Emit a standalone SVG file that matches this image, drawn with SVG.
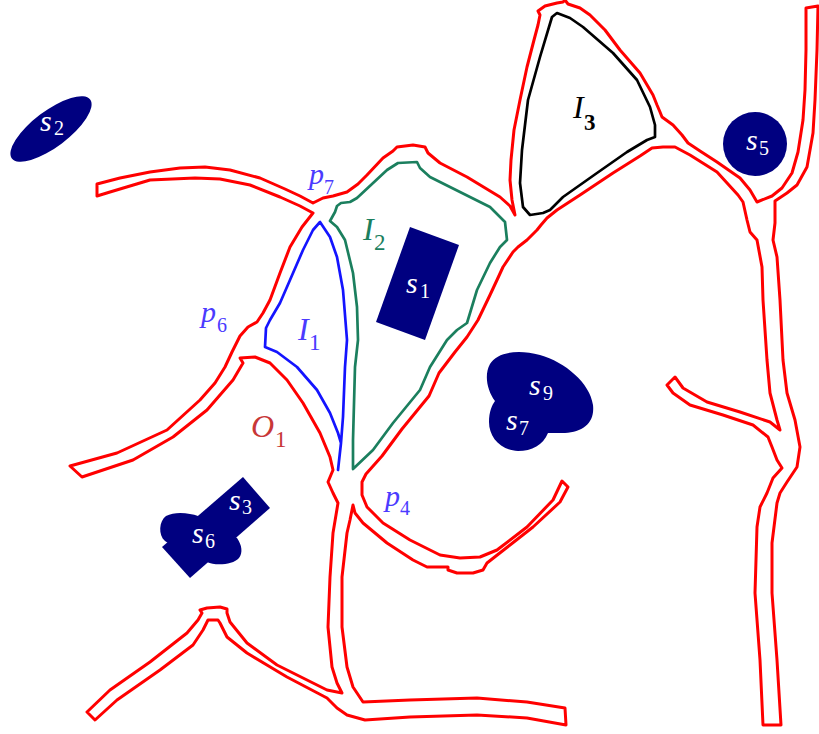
<svg xmlns="http://www.w3.org/2000/svg" width="819" height="734" viewBox="0 0 819 734">
<style>
  .road{fill:none;stroke:#ff0000;stroke-width:3;stroke-linejoin:round;stroke-linecap:round}
  .zone{fill:none;stroke-width:2.7;stroke-linejoin:round;stroke-linecap:round}
  .spot{fill:#000080}
  .m{font-family:"Liberation Serif","Times New Roman",serif;font-style:italic}
  .d{font-family:"Liberation Serif","Times New Roman",serif}
  .ms{font-size:30px}
  .ds{font-size:20px}
  .mb{font-size:32px}
  .db{font-size:23px}
  .wht{fill:#ffffff}
  .pt{fill:#4b3bff}
</style>
<rect width="819" height="734" fill="#ffffff"/>

<!-- outline of the road network -->
<g id="roads">
  <path class="road" d="M97,196 L97,184 L120,178 L150,172 L180,168 L205,167 L230,170 L260,178 L285,189 L300,196 L313,203
    L323,198 L333,196 L347,192 L358,184 L367,175 L383,158 L393,151 L397,147 L405,146 L413,145 L425,147 L428,153 L440,163 L467,177 L500,197 L510,206 L515,215
    L512,200 L510,180 L511,160 L514,130 L520,100 L527,67 L534,40 L538,25 L540,15 L538,11 L545,6 L557,3 L563,2 L565,0 L568,4 L580,8 L590,15 L605,30 L620,50 L640,73 L653,95 L657,105 L660,112 L662,117
    L673,125 L682,135 L688,143 L700,151 L717,162 L740,178 L750,190 L757,202
    L772,196 L782,188 L792,173 L798,152 L803,120 L805,90 L806,50 L806,8 L818,6
    L817,50 L815,100 L813,133 L807,167 L797,185 L787,193 L775,201 L775,223 L773,240 L777,257 L780,300 L783,360 L787,393 L795,420 L800,447 L797,467 L787,482 L780,493 L777,503 L772,543 L772,593 L777,660 L781,725
    L763,725 L760,660 L755,593 L757,527 L760,507 L767,493 L773,478 L782,468
    L777,460 L772,447 L768,437 L753,425 L723,415 L690,405 L673,393 L667,385 L675,377 L683,388 L707,402 L740,412 L770,422 L780,430
    L777,420 L770,393 L767,360 L763,300 L762,267 L757,240 L750,232 L747,220 L743,202
    L738,195 L717,172 L690,155 L675,147 L663,147 L652,148 L640,156 L613,173 L580,195 L557,210 L547,218 L541,225
    L537,230 L527,240 L518,247 L513,252 L503,267 L497,280 L490,295 L478,320 L467,337 L455,352 L439,373 L429,396 L402,429 L382,456 L366,474 L362,482
    L362,495 L367,507 L383,523 L410,540 L440,555 L460,558 L480,557 L497,550 L527,527 L553,500 L562,481 L568,487 L560,502 L533,527 L510,545 L487,563 L483,570 L473,573 L457,573 L448,570 L448,567 L427,567 L413,560 L387,543 L363,523 L355,513 L353,505
    L350,520 L347,533 L342,577 L342,627 L347,667 L353,687 L363,702
    L410,700 L477,698 L527,702 L565,708 L566,725 L527,718 L477,715 L410,717 L365,720 L347,715 L337,708 L332,703
    L327,698 L287,677 L247,653 L227,637 L220,623 L218,620 L208,620 L203,630 L193,645 L160,670 L117,700 L95,720 L87,712 L110,690 L150,662 L187,633 L198,620 L202,613 L200,610 L207,608 L220,607 L227,609 L227,613 L230,622 L247,643 L277,665 L327,690 L342,693
    L337,683 L332,667 L328,627 L330,577 L333,533 L338,503 L333,493 L328,482 L333,470 L330,457
    L320,433 L303,403 L287,380 L270,363 L255,357 L240,358
    L243,363 L233,380 L207,410 L173,437 L133,460 L82,477 L70,466 L117,453 L167,430 L200,400 L215,383 L225,367 L232,352 L240,336 L248,327 L257,322 L263,313 L270,300 L280,273 L290,247 L302,227 L313,213
    L300,206 L280,197 L250,185 L220,179 L195,178 L150,180 L110,192 Z"/>
</g>

<!-- enclosed zones -->
<g id="I1">
  <path class="zone" stroke="#1414ff" d="M320,222 L313,230 L303,250 L290,280 L280,303 L270,320 L266,328 L265,347 L277,352 L297,367 L317,390 L330,413 L338,433 L341,443 L338,470 L341,443 L343,417 L345,367 L347,340 L343,290 L337,257 L330,237 Z"/>
  <text class="m mb pt" x="298" y="340">I</text><text class="d db pt" x="309" y="350">1</text>
</g>
<g id="I2">
  <path class="zone" stroke="#1b7f5e" d="M330,221 L335,212 L337,206 L341,203 L350,202 L357,198 L372,184 L387,170 L398,163 L417,162 L420,168 L430,177 L460,192 L490,207 L505,222 L507,240 L500,247 L490,263 L477,290 L467,323 L457,330 L447,340 L430,367 L420,390 L393,423 L373,450 L353,469 L353,440 L355,367 L358,340 L357,307 L353,273 L345,240 L337,227 Z"/>
  <text class="m mb" fill="#1b7f5e" x="363" y="240">I</text><text class="d db" fill="#1b7f5e" x="374" y="250">2</text>
</g>
<g id="I3">
  <path class="zone" stroke="#000000" d="M530,215 L523,207 L520,183 L522,150 L528,100 L540,57 L552,17 L557,13 L570,18 L583,27 L613,53 L637,80 L650,107 L655,125 L655,137 L647,140 L627,152 L597,173 L563,197 L550,210 L543,213 Z"/>
  <text class="m mb" fill="#000" x="573" y="118">I</text><text class="d db" font-weight="bold" fill="#000" x="584" y="130">3</text>
</g>
<g id="O1">
  <text class="m mb" fill="#c83737" x="251" y="437">O</text><text class="d db" fill="#c83737" x="275" y="447">1</text>
</g>

<!-- junction points -->
<g id="p7"><text class="m ms pt" x="309" y="184">p</text><text class="d ds pt" x="324" y="194">7</text></g>
<g id="p6"><text class="m ms pt" x="201" y="322">p</text><text class="d ds pt" x="217" y="332">6</text></g>
<g id="p4"><text class="m ms pt" x="385" y="506">p</text><text class="d ds pt" x="400" y="515">4</text></g>

<!-- sites -->
<g id="s2">
  <ellipse class="spot" cx="51" cy="129" rx="49" ry="18" transform="rotate(-37 51 129)"/>
  <text class="m ms wht" x="40" y="131">s</text><text class="d ds wht" x="54" y="135">2</text>
</g>
<g id="s5">
  <circle class="spot" cx="755" cy="144" r="32"/>
  <text class="m ms wht" x="746" y="150">s</text><text class="d ds wht" x="759" y="155">5</text>
</g>
<g id="s1">
  <polygon class="spot" points="410,227 459,245 425,340 376,322"/>
  <text class="m ms wht" x="406" y="293">s</text><text class="d ds wht" x="420" y="298">1</text>
</g>
<g id="s3">
  <polygon class="spot" points="243,477 270,508 190,578 162,547"/>
  <text class="m ms wht" x="229" y="510">s</text><text class="d ds wht" x="242" y="514">3</text>
</g>
<g id="s6">
  <path class="spot" d="M198,516 C190,513 175,511 166,516 C159,521 158,535 165,541 L168,543 L207,562 C215,566 233,565 239,558 C243,553 242,545 237,538 Z"/>
  <text class="m ms wht" x="192" y="543">s</text><text class="d ds wht" x="205" y="548">6</text>
</g>
<g id="s9s7">
  <path class="spot" d="M495,401 C487,390 484,375 490,364 C497,352 518,349 540,355 C565,362 590,383 593,405 C595,423 583,432 565,433 L548,433 C543,445 532,451 518,451 C500,450 489,437 489,422 C489,412 492,405 495,401 Z"/>
  <text class="m ms wht" x="529" y="395">s</text><text class="d ds wht" x="543" y="400">9</text>
  <text class="m ms wht" x="506" y="430">s</text><text class="d ds wht" x="519" y="435">7</text>
</g>
</svg>
